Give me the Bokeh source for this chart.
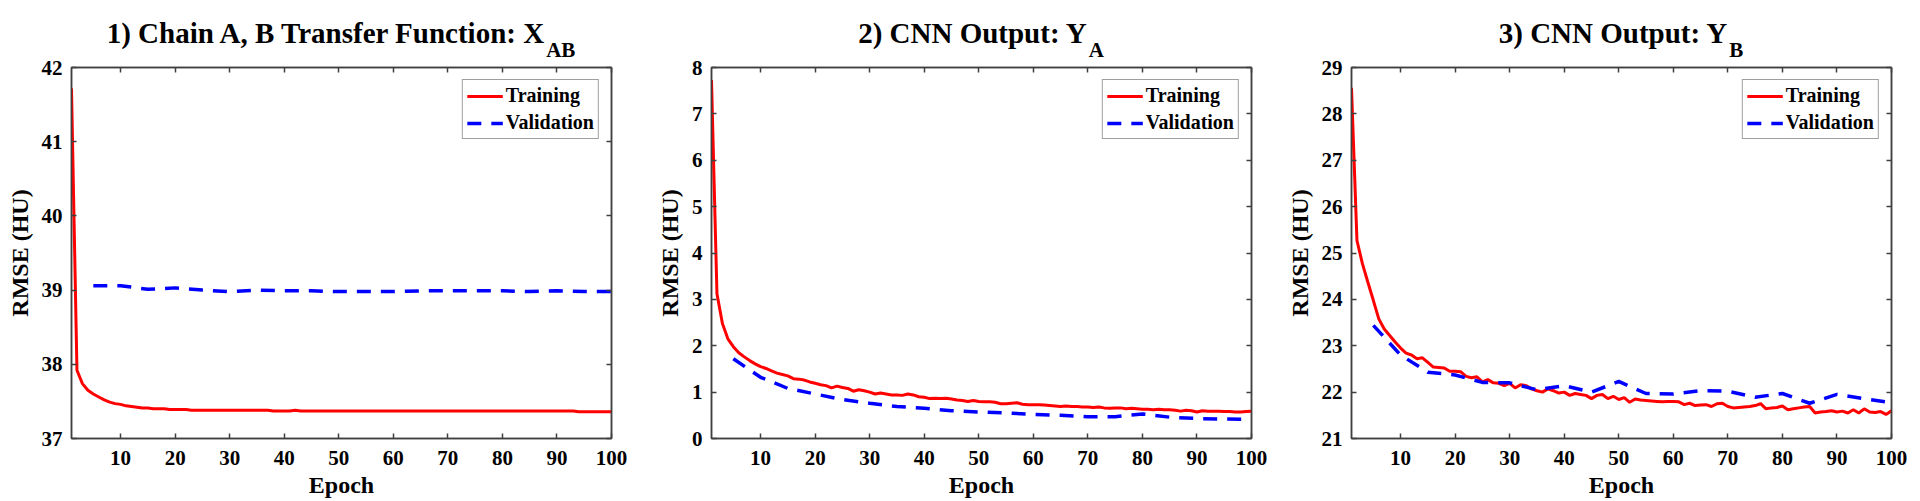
from bokeh.plotting import figure
from bokeh.layouts import row, column
from bokeh.models import Range1d, LinearAxis, FixedTicker, Legend, LegendItem, Div
from bokeh.embed import file_html
from bokeh.resources import INLINE

# ---------------- data ----------------
epochs = list(range(1, 101))
val_epochs = list(range(5, 101, 5))

train_xab = [41.72, 37.92, 37.74, 37.65, 37.60, 37.56, 37.52, 37.49, 37.47, 37.46,
             37.44, 37.43, 37.42, 37.41, 37.41, 37.40, 37.40, 37.40, 37.39, 37.39,
             37.39, 37.39, 37.38, 37.38, 37.38, 37.38, 37.38, 37.38, 37.38, 37.38,
             37.38, 37.38, 37.38, 37.38, 37.38, 37.38, 37.38, 37.37, 37.37, 37.37,
             37.37, 37.38, 37.37, 37.37, 37.37, 37.37, 37.37, 37.37, 37.37, 37.37,
             37.37, 37.37, 37.37, 37.37, 37.37, 37.37, 37.37, 37.37, 37.37, 37.37,
             37.37, 37.37, 37.37, 37.37, 37.37, 37.37, 37.37, 37.37, 37.37, 37.37,
             37.37, 37.37, 37.37, 37.37, 37.37, 37.37, 37.37, 37.37, 37.37, 37.37,
             37.37, 37.37, 37.37, 37.37, 37.37, 37.37, 37.37, 37.37, 37.37, 37.37,
             37.37, 37.37, 37.37, 37.36, 37.36, 37.36, 37.36, 37.36, 37.36, 37.36]
val_xab = [39.06, 39.06, 39.01, 39.03, 39.00, 38.98, 39.00, 38.99, 38.99, 38.98,
           38.98, 38.98, 38.99, 38.99, 38.99, 38.99, 38.98, 38.99, 38.98, 38.98]

train_ya = [7.73, 3.12, 2.48, 2.15, 1.98, 1.85, 1.76, 1.68, 1.61, 1.55,
            1.51, 1.46, 1.41, 1.38, 1.35, 1.29, 1.28, 1.26, 1.22, 1.19,
            1.16, 1.14, 1.09, 1.13, 1.10, 1.08, 1.02, 1.05, 1.03, 1.00,
            0.96, 0.98, 0.96, 0.94, 0.94, 0.93, 0.96, 0.94, 0.90, 0.89,
            0.86, 0.87, 0.86, 0.87, 0.85, 0.83, 0.82, 0.80, 0.82, 0.80,
            0.79, 0.79, 0.78, 0.75, 0.75, 0.76, 0.77, 0.74, 0.73, 0.73,
            0.73, 0.72, 0.71, 0.70, 0.69, 0.70, 0.69, 0.69, 0.68, 0.68,
            0.67, 0.68, 0.66, 0.65, 0.66, 0.66, 0.64, 0.65, 0.64, 0.63,
            0.63, 0.62, 0.63, 0.62, 0.62, 0.61, 0.59, 0.61, 0.60, 0.57,
            0.60, 0.59, 0.59, 0.59, 0.58, 0.58, 0.57, 0.57, 0.58, 0.59]
val_ya = [1.72, 1.32, 1.08, 0.96, 0.84, 0.76, 0.69, 0.65, 0.60, 0.57,
          0.55, 0.52, 0.50, 0.47, 0.47, 0.53, 0.46, 0.43, 0.42, 0.41]

train_yb = [28.56, 25.27, 24.77, 24.37, 23.98, 23.58, 23.36, 23.22, 23.08, 22.95,
            22.84, 22.80, 22.72, 22.74, 22.64, 22.54, 22.53, 22.52, 22.45, 22.45,
            22.44, 22.34, 22.31, 22.33, 22.22, 22.27, 22.20, 22.19, 22.14, 22.19,
            22.09, 22.16, 22.14, 22.07, 22.03, 22.00, 22.07, 22.03, 21.98, 22.00,
            21.93, 21.97, 21.95, 21.93, 21.86, 21.93, 21.95, 21.86, 21.91, 21.84,
            21.88, 21.78, 21.85, 21.83, 21.82, 21.81, 21.80, 21.79, 21.80, 21.80,
            21.79, 21.73, 21.76, 21.71, 21.72, 21.73, 21.69, 21.75, 21.76, 21.69,
            21.66, 21.67, 21.68, 21.69, 21.71, 21.75, 21.64, 21.66, 21.67, 21.70,
            21.62, 21.64, 21.66, 21.68, 21.69, 21.55, 21.57, 21.58, 21.60, 21.57,
            21.59, 21.55, 21.62, 21.55, 21.64, 21.57, 21.56, 21.58, 21.52, 21.60]
val_yb = [23.44, 22.80, 22.43, 22.37, 22.21, 22.20, 22.05, 22.14, 22.00, 22.23,
          21.97, 21.96, 22.03, 22.02, 21.89, 21.97, 21.76, 21.95, 21.86, 21.77]

titles = ["1) Chain A, B Transfer Function: X", "2) CNN Output: Y", "3) CNN Output: Y"]
subscripts = ["AB", "A", "B"]
y_limits = [(37, 42), (0, 8), (21, 29)]
y_tick_values = [list(range(37, 43)), list(range(0, 9)), list(range(21, 30))]
x_tick_values = list(range(10, 101, 10))
train_series = [train_xab, train_ya, train_yb]
val_series = [val_xab, val_ya, val_yb]

FONT = "Liberation Serif"
AX = "#404040"

LEFT, FRAME_W, RIGHT = 71, 540, 29
TITLE_H, TOP, FRAME_H, BOTTOM = 53, 14, 371, 63


def style_axis(ax, ticks, show_labels=True):
    ax.ticker = FixedTicker(ticks=ticks)
    ax.axis_line_color = AX
    ax.axis_line_width = 1.5
    ax.major_tick_line_color = AX
    ax.major_tick_line_width = 1.5
    ax.major_tick_in = 5
    ax.major_tick_out = 0
    ax.minor_tick_line_color = None
    if show_labels:
        ax.major_label_text_font = FONT
        ax.major_label_text_font_style = "bold"
        ax.major_label_text_font_size = "21px"
        ax.major_label_text_color = "black"
        ax.axis_label_text_font = FONT
        ax.axis_label_text_font_style = "bold"
        ax.axis_label_text_font_size = "24px"
        ax.axis_label_text_color = "black"
    else:
        ax.major_label_text_color = None
        ax.major_label_text_font_size = "1px"
        ax.major_label_standoff = 0


panels = []
for i in range(3):
    y0, y1 = y_limits[i]
    p = figure(width=LEFT + FRAME_W + RIGHT, height=TOP + FRAME_H + BOTTOM,
               output_backend="svg", toolbar_location=None,
               x_range=Range1d(1, 100), y_range=Range1d(y0, y1),
               min_border_left=LEFT, min_border_right=RIGHT,
               min_border_top=TOP, min_border_bottom=BOTTOM, margin=0)
    p.xgrid.visible = False
    p.ygrid.visible = False
    p.outline_line_color = AX
    p.outline_line_width = 1.5
    p.background_fill_color = "white"
    p.border_fill_color = None

    style_axis(p.xaxis[0], x_tick_values)
    p.xaxis[0].axis_label = "Epoch"
    p.xaxis[0].major_label_standoff = 12
    p.xaxis[0].axis_label_standoff = 4
    style_axis(p.yaxis[0], y_tick_values[i])
    p.yaxis[0].axis_label = "RMSE (HU)"
    p.yaxis[0].major_label_standoff = 9
    p.yaxis[0].axis_label_standoff = 6

    top = LinearAxis()
    style_axis(top, x_tick_values, show_labels=False)
    p.add_layout(top, "above")
    right = LinearAxis()
    style_axis(right, y_tick_values[i], show_labels=False)
    p.add_layout(right, "right")

    r_train = p.line(epochs, train_series[i], line_color="#ff0000", line_width=3)
    r_val = p.line(val_epochs, val_series[i], line_color="#0000ff", line_width=3.5,
                   line_dash="14 10")

    legend = Legend(items=[LegendItem(label="Training", renderers=[r_train]),
                           LegendItem(label="Validation", renderers=[r_val])],
                    location="top_right", margin=12, padding=4, spacing=4,
                    glyph_width=36, glyph_height=20, label_height=20, label_standoff=3,
                    label_text_font=FONT, label_text_font_style="bold",
                    label_text_font_size="20px", label_text_color="black",
                    border_line_color=AX, border_line_width=1.5,
                    background_fill_color="white", background_fill_alpha=1.0)
    p.add_layout(legend)

    html = ('<div style="display:block;box-sizing:border-box;width:%dpx;'
            'font-family:\'Liberation Serif\',serif;font-weight:bold;'
            'font-size:29px;line-height:29px;color:black;text-align:center;'
            'padding-top:19px;white-space:nowrap;overflow:visible;">' % FRAME_W
            + titles[i]
            + '<span style="font-size:21px;line-height:21px;vertical-align:-14px;'
              'margin-left:2px;">'
            + subscripts[i] + '</span></div>')
    title_div = Div(text=html, width=FRAME_W, height=TITLE_H,
                    margin=(0, RIGHT, 0, LEFT),
                    styles={"width": "%dpx" % FRAME_W, "text-align": "center",
                            "overflow": "visible", "z-index": "5"})
    panels.append(column(title_div, p, spacing=0))

layout = row(*panels, spacing=0)
open("out.html", "w").write(file_html(layout, INLINE))
